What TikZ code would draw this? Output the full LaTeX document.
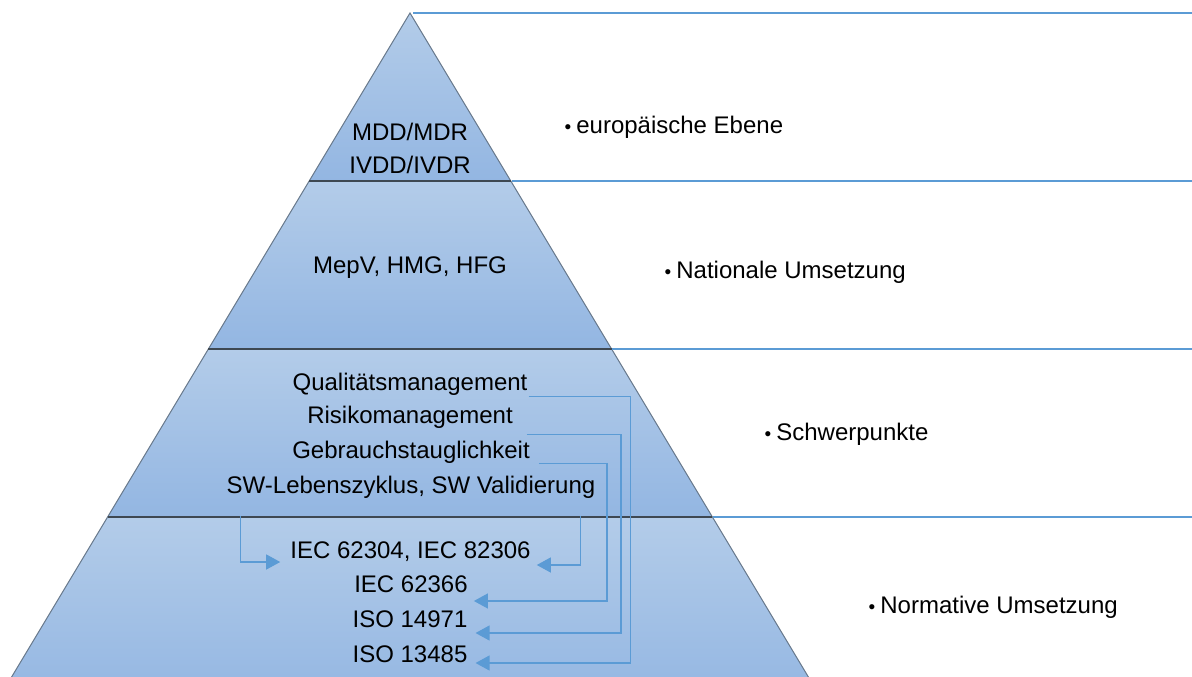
\documentclass[tikz,border=0pt]{standalone}
\usepackage{fontspec}
\setmainfont{Liberation Sans}
\usetikzlibrary{arrows.meta}
\definecolor{lay1}{HTML}{B3CCE9}
\definecolor{lay2}{HTML}{93B6E2}
\definecolor{edge}{HTML}{66778A}
\definecolor{sep}{HTML}{3E4852}
\definecolor{blu}{HTML}{5B9BD5}
\newcommand{\smallbul}{{\fontsize{19}{20}\selectfont •}}
\tikzset{
  layer/.style={top color=lay1, bottom color=lay2, draw=none},
  outline/.style={draw=edge, line width=1pt},
  seprule/.style={draw=sep, line width=1.3pt},
  hline/.style={draw=blu, line width=1.2pt},
  txt/.style={font=\fontsize{24}{28}\selectfont, inner sep=0pt, anchor=base, text=black},
  lbl/.style={font=\fontsize{24}{28}\selectfont, inner sep=0pt, anchor=base west, text=black},
  conn/.style={draw=blu, line width=1.2pt, -{Triangle[length=14pt,width=15pt]}},
}
\begin{document}
\begin{tikzpicture}[x=1pt,y=-1pt]
\useasboundingbox (0,0) rectangle (1192,677);
\fill[white] (0,0) rectangle (1192,677);
% layers
\shade[layer] (410,13) -- (309.2,181) -- (510.8,181) -- cycle;
\shade[layer] (309.2,181) -- (208.4,349) -- (611.6,349) -- (510.8,181) -- cycle;
\shade[layer] (208.4,349) -- (107.6,517) -- (712.4,517) -- (611.6,349) -- cycle;
\shade[layer] (107.6,517) -- (-4,703) -- (824,703) -- (712.4,517) -- cycle;
% outline
\draw[outline] (-4,703) -- (410,13) -- (824,703);
\draw[seprule] (309.2,181) -- (510.8,181);
\draw[seprule] (208.4,349) -- (611.6,349);
\draw[seprule] (107.6,517) -- (712.4,517);
% right lines
\draw[hline] (413,13) -- (1192,13);
\draw[hline] (511.5,181) -- (1192,181);
\draw[hline] (612.3,349) -- (1192,349);
\draw[hline] (713.1,517) -- (1192,517);
% pyramid texts
\node[txt] (mdd) at (410,140) {MDD/MDR};
\node[txt] (ivdd) at (410,173) {IVDD/IVDR};
\node[txt] (mepv) at (410,273) {MepV, HMG, HFG};
\node[txt] (q) at (410,390) {Qualitätsmanagement};
\node[txt] (r) at (410,423) {Risikomanagement};
\node[txt] (g) at (411,458) {Gebrauchstauglichkeit};
\node[txt] (sw) at (411,493) {SW-Lebenszyklus, SW Validierung};
\node[txt] (iec1) at (410.5,558) {IEC 62304, IEC 82306};
\node[txt] (iec2) at (411,592) {IEC 62366};
\node[txt] (iso1) at (410,627) {ISO 14971};
\node[txt] (iso2) at (410,662) {ISO 13485};
% right labels
\node[lbl] (l1) at (564.5,133) {\smallbul\hspace{5pt}europäische Ebene};
\node[lbl] (l2) at (664.5,278) {\smallbul\hspace{5pt}Nationale Umsetzung};
\node[lbl] (l3) at (764.5,440) {\smallbul\hspace{5pt}Schwerpunkte};
\node[lbl] (l4) at (868.5,613) {\smallbul\hspace{5pt}Normative Umsetzung};
% connectors
\draw[conn] ([xshift=1pt,yshift=-1pt]q.south east) -- ++(102,0) |- ([xshift=8pt,yshift=-1pt]iso2.base east);
\draw[conn] ([xshift=14pt,yshift=-6pt]r.south east) -- ++(94,0) |- ([xshift=8pt,yshift=-6pt]iso1.base east);
\draw[conn] ([xshift=9pt]g.south east) -- ++(68,0) |- ([xshift=6pt,yshift=-9pt]iec2.base east);
\draw[conn] ([xshift=14pt,yshift=-18pt]sw.south west) |- ([xshift=-10pt,yshift=-4pt]iec1.base west);
\draw[conn] ([xshift=-15pt,yshift=-18pt]sw.south east) |- ([xshift=6pt,yshift=-7pt]iec1.base east);
\end{tikzpicture}
\end{document}
